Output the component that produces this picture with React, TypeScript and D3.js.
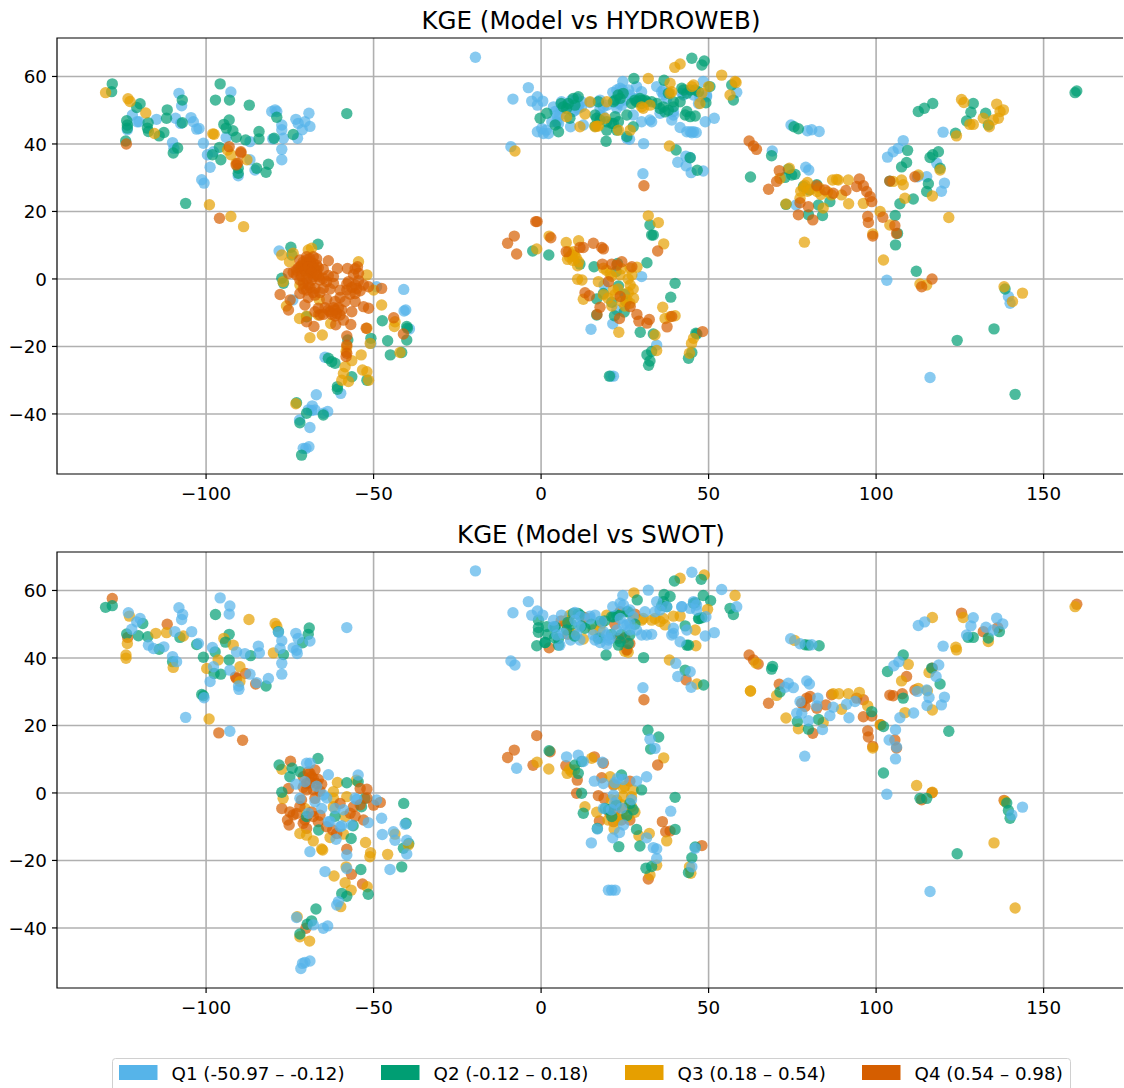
import React from "react";
import * as d3 from "d3";

type P = [number, number];

const xTicks = [-100, -50, 0, 50, 100, 150];
const yTicks = [-40, -20, 0, 20, 40, 60];
const titles = ["KGE (Model vs HYDROWEB)", "KGE (Model vs SWOT)"];
const legendLabels = ["Q1 (-50.97 – -0.12)", "Q2 (-0.12 – 0.18)", "Q3 (0.18 – 0.54)", "Q4 (0.54 – 0.98)"];
const colors = ["#56B4E9", "#009E73", "#E69F00", "#D55E00"];

const hydrowebQ1: P[] = [
[-108.1,55],[-107.3,51.3],[-92.6,55.4],[-122,48.6],[-120,46.6],[-120.6,46.6],[-114.8,47.3],[-109.1,47.6],[-107.6,46.1],[-104.5,47.8],[-103.8,46.6],[-102.8,44.4],[-102.1,44.6],[-123.5,44.2],[-110,40.4],[-109.6,38.7],[-100.8,40.2],[-99.6,36.8],[-97.8,37.7],[-98.8,33.1],[-94,41.9],[-86.9,40.7],[-86.9,35.3],[-85.4,32.3],[-90.4,30.6],[-101.3,29.4],[-100.6,28.4],[-79.4,50.1],[-78.9,49.6],[-80.4,49.6],[-69.3,49.1],[-73.2,47.3],[-72.5,46.1],[-70.5,46.6],[-69,45.2],[-71.3,44.2],[-77.4,45.6],[-77.4,44.2],[-76.9,41.7],[-72.7,41.7],[-80.1,41.5],[-77.4,38.4],[-77.4,35.3],
[-78.2,8.3],[-49.1,-2.3],[-41,-3.1],[-40.4,-9.2],[-40.9,-9.5],[-39.3,-14.8],[-50.8,-19.1],[-64.5,-23.2],[-59.8,-33.9],[-67.1,-34.3],[-68.3,-37.6],[-69.5,-38.8],[-68.5,-39],[-67.5,-38.8],[-65,-39.8],[-63.7,-39.3],[-72.1,-41.8],[-69,-44],[-71,-50.2],[-69.3,-49.7],[-70.2,-50.2],[-74.1,-6.2],
[-19.6,65.7],[-3.8,56.7],[-8.4,53.3],[-2.8,52.7],[-1.1,54],[0.5,52.7],[-1.1,51.5],[-1.1,43.6],[0.2,44.6],[2.2,43.1],[1.5,44.1],[3.7,51],[4.7,48.6],[5.2,46.1],[6.1,52.5],[9.1,53],[10.6,53.5],[12.1,52.5],[10.1,50],[11.1,51.5],[12.1,51],[8.8,45.1],[12.6,45.6],[14.6,52.3],[17.6,50.6],[18.6,48.1],[21.4,55.3],[23.1,52],[24.4,58.5],[24.3,56],[26.5,54.5],[28.5,57],[30,55.5],[25.6,41.7],[26.4,41.4],[27.5,48.6],[30,46.6],[32.5,47.1],[33,46.6],[30.6,40.1],[34.5,57],[36,55.5],[36.5,54.5],[39.5,48.6],[39,47.1],[41.5,44.9],[42,55],[44.5,43.6],[45.5,43.6],[46.3,43.4],[49,46.6],[51.7,47.6],[48.4,58.5],[47,52],[49.4,54],[58.4,55.3],[-9,39.2],[43.2,36.4],[44.5,36],[40.8,34.6],[43.3,33.5],[44.8,31.5],[48.4,32],[30.4,31.2],[17.6,53],[19.6,51.5],[35.5,49.1],
[7.6,51.5],[9.1,51.5],[10.1,52.5],[11.1,50.6],[9.6,49.6],[4.7,46.6],[6.1,50.6],[3.2,46.6],[0.7,43.1],[4.2,49.6],[5.6,48.6],[17.6,48.6],[18.6,51],[22.6,50.6],[24.1,51.5],[25.1,53],[22.6,56],[23.6,56.5],[26.1,56],[28.1,53.5],[36.5,56],[37.5,53.5],[39.5,49.6],[42.5,54.5],[45.5,54.5],[47.4,54],[49.4,54.5],[43.5,43.6],[45,43.3],
[30,0.7],[18.8,-1.8],[14.9,-14.9],[21.4,-13.3],[34.5,-19.6],[21.6,-28.8],[20.8,-28.8],[22.6,-9.2],
[74.6,45.6],[79.5,43.9],[80.8,44.2],[83,43.7],[69,37.9],[79,33.1],[79.9,32.3],[76.1,21.9],[108.1,41],[106.6,38.7],[105.1,37.7],[103.4,36.1],[120,43.5],[118.1,34.3],[115.1,30.3],[112.4,30.3],[120.4,28.4],[119.5,26],[103.2,-0.4],[116.1,-29.2],[139.5,-5.2],[140,-7.2]
];

const hydrowebQ2: P[] = [
[-128,57.8],[-128.2,55.5],[-119.7,51.9],[-120.7,50.8],[-111.6,50.1],[-111.8,47.6],[-107.1,53],[-107.1,46.3],[-95.8,57.8],[-97.2,53],[-93,53],[-87.1,51.5],[-58,49],[-123.7,46.9],[-123.5,45.6],[-123.5,44.7],[-117.3,46.3],[-117.5,44.7],[-117.2,43.7],[-112.6,43.4],[-114,42.4],[-124,40.9],[-108.5,38.8],[-109.8,37.3],[-93.1,47.1],[-94.7,45.8],[-94,44.7],[-92,43.9],[-91,42],[-84.2,43.7],[-84.2,41.5],[-88.2,41.2],[-79.7,41.7],[-74,42.8],[-78.9,47.9],[-96,39],[-98.1,36.8],[-95.6,35.3],[-90.4,32.8],[-90.4,31.3],[-84.9,32.8],[-81.4,34],[-82.1,31.6],[-106.1,22.4],
[-66.6,10.3],[-74.7,9.4],[-74.4,7.1],[-77.4,0.2],[-76.9,-1.3],[-57.7,-18.1],[-50.8,-17.6],[-47.4,-12.4],[-45.8,-18.3],[-40.1,-14.1],[-39.9,-14.6],[-40.1,-18.1],[-45,-22.5],[-41.6,-21.8],[-63.5,-23.5],[-62.5,-24.5],[-61.5,-25],[-60.8,-31.9],[-60.8,-32.7],[-56.5,-29],[-52,-30],[-73,-36.7],[-70,-39.8],[-65,-40.3],[-72,-42.6],[-71.5,-52.2],[-70,-11.2],
[45,65.4],[48.7,64.6],[48,63.4],[27.7,59.4],[36.7,58.9],[42,56.5],[46,56],[50.4,57],[56.9,57.5],[57.4,53],[6,52],[7.6,50.5],[9.6,53.5],[11.1,54],[17.1,52.5],[1.7,49.1],[-0.3,47.6],[4.2,45.6],[5.2,43.6],[8.6,47.6],[16.1,48.6],[19.6,44.1],[19.4,40.8],[21.6,52.5],[23,54.5],[24.5,55],[22.1,48.1],[23.1,46.6],[21.1,46.1],[25.6,48.6],[27.5,45.1],[22.6,44.1],[25.6,42.2],[27,52],[28.5,52.5],[30,53],[31.5,52.5],[34.5,52],[35.5,50.5],[37,49.5],[39.5,52.5],[41.5,52.5],[38,55],[43,48.6],[44.5,48.1],[46,48.3],[49.2,52.2],[40.3,38.2],[44.5,35.9],[46.6,32.2],[62.5,30.2],
[8.1,52],[6.6,51],[10.1,51.5],[16.6,47.6],[17.6,47.1],[22.1,53],[23.6,53.5],[28,53],[29.5,53.5],[31,53],[33,52.5],[30,52],[36.5,51],[38,50],[39.5,51],[44.5,56],[43.5,55],[42.5,56],[47,55.5],[43.5,49.6],[21.6,46.1],[19.6,46.6],[16.1,45.3],
[15.8,3.6],[-2.5,8.3],[2.3,7.1],[32.5,16],[33,13],[33.5,13],[31.6,4.8],[11.6,4.4],[22.4,2.2],[22.8,4.6],[40,-1.3],[38.7,-5.4],[18.6,-4.3],[16.6,-5.9],[21.1,-6.9],[25,-4.6],[25.3,-6.7],[24.8,-9.8],[23.1,-2.1],[21.9,-10.9],[16.6,-10.7],[29.6,-15.8],[33.5,-16.3],[46.2,-16.1],[46.5,-16.3],[33,-21.5],[31.6,-22.5],[32.5,-24.3],[32.1,-25.6],[20.4,-28.8],[44,-23.5],[45,-21.8],
[75.5,45.1],[76.8,44.5],[68.8,36.5],[73.8,32.5],[74.8,30.8],[75.8,31],[72.8,30.1],[78.3,27.4],[80,26.4],[82.3,27.9],[86.2,22.9],[82.8,21.9],[84,18.8],[79.8,19],[73.1,22.1],[112.6,49.6],[114.4,50.6],[116.9,52],[129,52],[128.3,49.4],[132.7,49.1],[127,46.8],[133.5,45.6],[123.7,43.2],[109.4,38.1],[109.1,34.5],[107.6,33.2],[118.6,37.7],[116.1,36],[116.9,36.8],[119.1,32.8],[104.1,29],[115.6,28.2],[115.1,25.9],[111.1,23.7],[107.1,22.3],[105.7,18.8],[106.4,13.5],[105.8,10.1],[112,2.3],[138.5,-3],[135.2,-14.8],[124.2,-18.2],[141.5,-34.2],[159.9,55.7],[159.4,55.2]
];

const hydrowebQ3: P[] = [
[-130,55.2],[-123.3,53.4],[-122.7,52.6],[-118,49.2],[-115.4,43.1],[-98,43],[-97.6,42.9],[-92.6,36.8],[-93.6,38.2],[-87.8,35.3],[-91,34.3],[-99,22],[-92.6,18.5],[-88.8,15.5],
[-77.4,7.1],[-75.1,5.1],[-74,7.6],[-69.5,8.6],[-68.5,9.1],[-54.5,5.1],[-52,1.2],[-77,-0.8],[-72,-1.8],[-66.2,-6.2],[-50,-3.3],[-47.6,-7.7],[-76,-8],[-72.1,-11.7],[-70,-11],[-62.8,-13.2],[-69,-17.4],[-65.3,-16.6],[-52,-14.6],[-43.8,-14.1],[-43.6,-12.7],[-51,-19.1],[-58,-20.1],[-58.2,-21.5],[-53.7,-22.5],[-56.5,-24.2],[-53.3,-27],[-52,-27.5],[-51.5,-30],[-58.5,-26],[-59,-28],[-59.5,-30],[-57.5,-30.4],[-73.2,-37],[-42.1,-21.8],[-66.5,-10.7],
[39.9,62.7],[41.5,63.7],[53.9,60.4],[32,59.4],[38.5,58],[45,57],[57.9,58.5],[56.4,54.5],[47.4,52],[48,55],[14.6,52.5],[19.6,52.5],[32.5,51.5],[30,51],[13.1,48.9],[19.1,47.6],[11.6,45.1],[16.6,45.3],[23.1,44.1],[26.6,44.1],[38.3,39.4],[-7.8,37.9],[58.2,58.2],[39,55.5],[7.6,48.1],[16.1,45.1],[17.1,45.3],[30.5,50.6],[45.5,57.5],[50,57],[38.5,55],
[32,18.7],[35,16.7],[36.6,10.4],[2.4,12.7],[-1.3,8.9],[7.5,10.8],[11.2,11.3],[8.2,8.1],[9.2,7.1],[7.9,5.8],[11.2,5.1],[10.9,3.9],[9.7,8.1],[10.9,-0.1],[12.2,-0.3],[17.1,-0.8],[18.6,3.2],[20.6,1.5],[23.6,1.2],[26.6,3.2],[28.6,3.5],[27.1,1.2],[21.6,-3.3],[18.6,-4.7],[21.1,-8],[24.1,-6.7],[26.6,-1.8],[27.6,-5.7],[25.6,-6.2],[12.6,-6],[23.2,-15.8],[36.3,-8.4],[37,-11.7],[38.5,-11.2],[40,-10.9],[34,-16.6],[34.5,-21.2],[44.9,-19.1],[44.3,-22],[45.5,-17.6],
[19.5,2.6],[21,0.8],[24,3],[26,0],[27.5,-3],[26,-4],[23,-3],[22,-4.7],[20,-5.7],[25,-8],[26.5,-7.2],[10,7],[8.5,6.5],[10.5,6.2],[9.5,5.5],
[125.5,53.2],[126.2,52.3],[136,51.8],[137,49.6],[138,50.1],[136.5,47.6],[135,47.1],[132,47.6],[133.8,45.1],[128,45.8],[129,45.8],[124,42.4],[112.6,30.8],[107.6,29.3],[108.1,27.9],[105.1,28.9],[108.6,23.9],[116.8,24.6],[119.1,32.3],[121.7,18.2],[102.2,5.6],[101.2,20],[104.1,16],[99,13.3],[78.6,10.9],[115.1,-1.8],[113.1,-1.5],[138.2,-2.3],[140.7,-6.7],[143.7,-4.2],[96.2,22.4],[91.8,22.3],[89.7,24.9],[87,29.3],[88.7,29.3],[91.7,29.3],[88.2,29.5],[71.3,29.8],[74.1,32.8],[73.1,22.2],[77.3,23.9],[78.3,26.9],[79.5,28.6],[82.4,25.9],[84.2,21],[86.7,24.9],
[77.5,26],[78.7,27.8],[79.5,26],[80.5,26.5],[83,27],[83.5,25],[85.5,25.8]
];

const hydrowebQ4: P[] = [
[-123.8,40],[-93.1,39.2],[-89.6,37.7],[-89.6,37.3],[-91,33.8],[-90.6,34.3],[-96,18],
[-72,5.6],[-70,6.6],[-68,6.6],[-70,4.6],[-68,4.6],[-71,3.1],[-69,2.6],[-67,2.6],[-65,2.8],[-73,2.6],[-75.4,1.7],[-63.5,5.4],[-60.8,3.1],[-57.8,3.1],[-54.8,3.6],[-54.5,1.7],[-62,0.7],[-71,-1.3],[-68.5,-0.3],[-66,-0.3],[-64,-0.8],[-62,-1.3],[-60,-3.3],[-57.5,-0.8],[-55.5,-1.8],[-53,-1.8],[-55.5,-4.3],[-70,-3.3],[-67.5,-2.8],[-77.9,-4.6],[-74.9,-6.2],[-75.4,-9.2],[-70.5,-7.7],[-66.5,-8.7],[-66,-10.7],[-63,-9.7],[-61,-10.2],[-59.5,-9.2],[-59,-12.2],[-56.5,-9.7],[-61.5,-6.7],[-58.5,-6.7],[-55.5,-6.7],[-53,-8.2],[-51.5,-8.7],[-70,-12.7],[-67.8,-14.1],[-61.3,-13.6],[-56.8,-13.5],[-58,-16.9],[-58,-22],[-52.2,-14.6],[-44,-11.5],[-41.1,-16.3],[-47.6,-2.8],
[-72,3.6],[-69,5.1],[-67,4.1],[-73,1.2],[-70,1.7],[-68,0.7],[-69.5,-1.8],[-67.5,-4.8],[-72,-4.3],[-65,-2.8],[-58,-3.3],[-55,-2.8],[-63.5,-9.2],[-61.5,-9.2],[-60,-10.7],[-67.5,-9.7],[-58,-19.6],[-58.2,-23],[-51.5,-2.3],
[-71,5],[-70,5.6],[-69,6],[-67,6],[-71.5,4],[-69.5,3.5],[-68,3.5],[-66.5,3.3],[-72.5,3.2],[-70.5,2.4],[-68.5,1.8],[-67,1.2],[-74,2],[-71.5,0.8],[-70,0],[-72,-0.3],[-66.5,0.8],[-63.5,1],[-65,0.2],[-69,-2.5],[-71,-3],[-68,-4],[-66,-4],[-63,-3],[-58,-1.5],[-56.5,-2.5],[-54.5,-0.5],[-57,-4.5],[-54,-3.5],[-62,-8.5],[-60.5,-8.5],[-64.5,-8.5],[-65,-10.5],[-61.5,-11],[-62.5,-10.5],[-56,1.3],[-55.5,3],[-69.5,-5.5],[-64,-6],[-60,-5.5],
[30.7,27.6],
[-1.6,17],[-1.2,17],[-8,12.7],[-10,10.6],[-7.3,7.4],[2.9,12.2],[7.5,8.1],[11.6,9.3],[12.6,9.3],[15.6,10.6],[18.1,9.3],[18.6,8.9],[18.3,4.4],[21.1,4.4],[24.1,5.1],[22.6,4.1],[27.1,3.6],[20.1,-0.8],[13.1,-4.1],[14.4,-5],[17.6,-8.4],[16.7,-10.5],[23.6,-5.2],[26.6,-8.2],[23.4,-11.7],[28.6,-10.5],[29.2,-12.5],[32.3,-12],[31.6,-13.1],[34.8,8.3],[37.6,-14.2],[39,-11.1],[48.2,-15.6],
[62.1,40.9],[64.3,38.4],[63.4,39.4],[71.1,32.1],[70.3,28.9],[67.9,26.6],[77.3,22.6],[79.8,21.4],[76.8,19],[81.1,17.5],[82.3,27.6],[84.7,26.4],[87.2,25.4],[91,26.2],[95,29.6],[94.2,27.4],[96.2,27.6],[97.2,25.9],[98.2,24.4],[98.7,22.9],[97.5,18.5],[97.7,16.7],[102,18.3],[105.6,15.8],[106.1,13.5],[99,12.7],[111.6,30.3],[104.1,29],[116.7,0],[113.6,-2.3]
];

const swotQ1: P[] = [
[-95.8,57.8],[-92.9,55.4],[-93.1,53],[-108.1,54.9],[-107,52.9],[-107.3,51.4],[-123.2,53.4],[-119.7,51.7],[-120.7,50.7],[-122.2,48.5],[-117.2,43.8],[-115.7,42.8],[-112.6,43.3],[-109.3,47.8],[-104.3,47.8],[-102.3,44.3],[-110,40.4],[-108.8,38.9],[-98.1,43.1],[-98.8,33],[-92.9,36.4],[-86.9,35.2],[-84.4,43.5],[-84.1,41.5],[-88.4,41.3],[-90.9,41.8],[-97.8,37.4],[-90.3,31.7],[-90.2,30.7],[-84.9,32.7],[-81.4,33.9],[-100.6,28.2],[-106.1,22.4],[-92.9,18.3],[-58,49],[-73.2,47.3],[-72.5,45.8],[-69,45],[-73,42.3],[-72.8,41.3],[-74,43],[-77.4,45.1],[-78.4,47.6],[-77.4,38.4],[-77.4,35.2],[-77.9,42.8],
[-69,8.8],[-70,8.8],[-63.5,5.4],[-54.6,5.3],[-70.5,3.3],[-73.2,2.6],[-72,-1.6],[-65,-0.6],[-67.5,-2.6],[-55.5,-1.6],[-56.6,-9.5],[-49.1,-2.1],[-63,-8.5],[-59.5,-9.7],[-51.6,-8.8],[-61.2,-13.7],[-47.6,-7.5],[-47.4,-12.3],[-44.1,-11.5],[-43.6,-14],[-40.1,-14],[-40.1,-18.1],[-40.6,-9.3],[-69,-17.4],[-58,-18.4],[-58,-22.4],[-64.5,-23.3],[-45.1,-22.7],[-60.5,-32.2],[-61,-33.2],[-73,-36.9],[-68,-39.1],[-65,-40.1],[-63.7,-39.4],[-71.7,-52],[-70.5,-50.2],[-69,-49.8],[-71.2,-50.5],
[-63.5,-8.5],[-60,-10],[-69.5,-6],[-65.5,-4.6],[-61.5,-4.6],[-55,-1.9],[-67,2],[-64,-1.5],[-59,-5],
[-19.6,65.8],[45,65.4],[53.9,60.3],[-3.8,56.7],[-8.4,53.4],[-2.8,52.7],[-1.1,53.9],[0.5,52.7],[6.1,52.7],[10.1,53.5],[11.8,52.2],[14.6,52.4],[16.1,52.7],[3.7,51.2],[5.6,43.8],[8.8,45.3],[11.6,45.3],[16.1,45.3],[21.4,55.2],[24.4,58.5],[23.6,56.2],[26.5,54.2],[27.5,52.2],[32,60.1],[34.5,56.7],[31,53.7],[24.6,49.8],[26.5,48.3],[30,46.8],[33,47],[20.6,45.8],[19.6,44],[39.5,48.8],[39,46.8],[41.5,44.8],[42,55.2],[45.5,56.7],[49,46.5],[51.7,47.5],[46.4,54.2],[49.2,52.2],[58.4,55.2],[-9,39.1],[-7.8,37.9],[40.2,38.4],[44.5,35.9],[40.8,34.5],[44.8,31.3],[30.4,31.2],
[3.7,49.3],[4.7,46.8],[6.6,47.3],[10.1,51.2],[11.6,49.3],[10.6,46.8],[15.6,46.8],[18.6,47.8],[20.1,45.3],[22.6,48.3],[25.6,49.8],[23.6,51.7],[24.6,55.7],[26.5,50.3],[28.5,48.3],[31.5,46.8],[34,53.7],[35.5,54.2],[37.5,55.2],[42,55.2],[44.5,54.7],[46.4,55.7],[39.5,47.3],[43.5,48.3],[18.1,50.8],[14.6,51.7],[19.6,46.8],[17.6,44.6],
[7.6,10.7],[11.1,11.2],[12.6,9.3],[18.3,9.1],[-7.3,7.3],[15.9,3.5],[18.6,2.8],[22.8,4.3],[28.5,3.5],[31.5,4.8],[32.5,15.9],[34,13.2],[38.7,-5.4],[21.6,-0.6],[18.6,-4.6],[24.6,-9.5],[16.8,-10.7],[23.4,-11.7],[21.4,-13.3],[15,-14.8],[31.5,-13.3],[33.5,-16.2],[34.5,-16.6],[34.5,-19.4],[46,-16.4],[45,-21.9],[21.1,-28.8],[20.1,-28.8],[22.1,-28.8],[22,-3],[24,-4.5],[27,-2],[21,-5],[22,3],[24.5,4],
[74.5,45.7],[77.3,44.2],[80.8,43.9],[79.3,33.2],[80.1,32.3],[73.8,32.5],[75.3,31.2],[72.8,31.3],[77.3,27.1],[82.6,28.1],[87.2,25.4],[91.2,26.3],[93.7,27.1],[91.9,22.3],[82.3,25.8],[86.2,22.9],[79.8,21.4],[84,18.8],[76.3,23.6],[77.8,23.6],[78.7,10.9],[112.6,49.6],[114.5,50.7],[129,51.9],[128.3,49.5],[132.8,49.1],[136,51.8],[137.8,50.1],[127,46.8],[135,48.3],[120,43.5],[106.8,38.9],[105.3,37.7],[118.7,37.9],[117.9,34.5],[115.1,30.5],[112.3,30.1],[115.8,28.3],[120.4,28.4],[119.5,26.1],[115.2,25.9],[111.2,23.7],[107.1,22.3],[105.8,18.7],[103.9,15.7],[106.1,13.6],[105.8,10.1],[103.2,-0.4],[116.1,-29.2],[143.7,-4.2],[140.5,-6.5]
];

const swotQ2: P[] = [
[-130,55],[-128,55.5],[-97.2,52.9],[-118.9,50.2],[-123.7,47.1],[-120.2,46.6],[-117.4,46.3],[-114,42.6],[-107.8,46.1],[-102.8,44],[-110,38.9],[-100.8,40.2],[-93.1,47],[-94.2,44.7],[-97.3,41.8],[-93.1,39.4],[-97.6,35.4],[-95.6,35.2],[-86.7,40.7],[-82.1,31.7],[-101.3,29.2],[-100.8,28.8],[-69.2,48.9],[-69.5,47],[-71.2,44.5],[-76.9,41],[-78.4,47.8],
[-66.6,10.2],[-78.2,8.3],[-74.3,7.3],[-75,4.8],[-72,6.3],[-58,3],[-54.6,3.3],[-77.4,0.2],[-52.6,-1.6],[-53.6,-4.1],[-61.5,-6.9],[-56.1,-9.7],[-41,-3.1],[-40.3,-9],[-39.5,-15],[-41.1,-16.4],[-66.4,-11],[-56.7,-13.5],[-53.8,-22.7],[-41.6,-21.9],[-51.6,-30],[-59.5,-29.8],[-58,-30.6],[-67.2,-34.4],[-68.5,-37.9],[-69.8,-38.9],[-72,-41.8],[-70,-7],
[39.8,62.8],[47.8,63.3],[28.7,57.2],[36.7,58.8],[38.5,58.2],[36,55.5],[48.4,58.5],[50.6,57],[46,56.4],[56.4,54.7],[57.4,52.9],[-0.8,51.2],[1.7,49.3],[4.2,49],[-0.8,47.6],[5.2,45.8],[-1.3,43.6],[1.2,44.6],[5.2,43.8],[11.1,53.2],[9.1,50],[7.6,48.3],[13.1,48.8],[17.6,50.8],[17.6,46],[23.1,52.7],[26,53.7],[21.6,52.2],[26,44.3],[23.1,43.8],[19.4,40.9],[43,49.5],[44,43.8],[47.2,51.7],[30.6,40.1],[43,36.4],[48.5,32],
[1.2,44.6],[4.2,49.3],[9.6,53.2],[11.6,52.7],[21.1,52.2],[22.6,52.7],[26.5,46.8],[23.6,44.8],[17.1,45.8],[45.5,56.2],[36.5,56.7],[37.5,55.2],[47,51.7],[48,51.9],[43.5,43.8],[25.6,53.7],
[-0.8,49],[2,47],[4,46],[8,50.5],[12,49.5],[15,50],[19,51],[21,47],[24,47],[28,50],[10,46.5],
[31.9,18.6],[35.1,16.6],[32.7,13],[2.4,12.5],[10.1,8.3],[12.1,9.3],[11.1,5.8],[24,5.3],[30,0.9],[12.1,-0.1],[40,-1.3],[12.6,-6],[16.8,-10.5],[20.1,-5],[22.4,-3.6],[26.5,-3.1],[27.5,-5],[21.1,-7],[25.6,-6.7],[19.1,-4.6],[28.5,-10.8],[40,-10.8],[23.2,-15.9],[29.5,-15.7],[46,-16],[45,-19.2],[44,-23.6],[31.3,-22.3],[33,-21.8],
[78.8,43.9],[79.8,43.8],[83,43.6],[127.5,46.1],[129,46.1],[133.5,45.9],[136.8,47.8],[69.1,37.5],[68.8,36.7],[71.3,29.9],[82.8,21.8],[108.1,40.9],[103.4,36],[116.6,37],[119.1,32.3],[108.1,28.1],[98.7,24.1],[76.5,21.2],[79.8,18.9],[102.2,19.7],[121.7,18.3],[102.2,5.9],[113.1,-1.6],[115.1,-1.6],[139,-3],[139.5,-5.2],[140,-7.5],[124.2,-18]
];

const swotQ3: P[] = [
[-87.2,51.4],[-79.4,50.2],[-78.9,49.4],[-79.9,41.5],[-122.9,52.4],[-123.5,44.3],[-123.9,40.9],[-123.9,39.9],[-115,47.3],[-111.8,47.5],[-106.8,46.5],[-109.8,37.2],[-94.7,45.8],[-91.9,43.8],[-96.4,39.4],[-99.8,36.9],[-89.9,37.4],[-89.9,33],[-99.1,21.9],
[-77.4,7],[-60.8,3.1],[-55.1,3.8],[-62,0.4],[-62,-1.6],[-58,-1.1],[-77,-1.6],[-70.5,-4.6],[-62,-4.1],[-58.5,-7],[-59,-12.2],[-63,-13.2],[-68,-14.2],[-72,-12],[-70,-12.5],[-65.5,-16.6],[-65.2,-16.9],[-52.4,-14.7],[-50.9,-17.7],[-45.8,-18.2],[-51.1,-18.9],[-58.2,-21.9],[-61.8,-24.6],[-58.5,-26.6],[-56.7,-28.8],[-51.9,-27.8],[-59.8,-33.7],[-72.8,-36.7],[-72,-42.6],[-69.1,-43.9],[-43.6,-12.2],[-39.6,-15.4],
[41.5,63.6],[48.7,64.6],[27.7,59.3],[57.9,58.5],[38.3,39.4],[46.5,32.3],[62.5,30.2],[26,41.7],[25,42],[46.2,43.6],[46,48.3],[12.6,45.6],[15.6,48.3],[8.6,52.7],[19.6,52.7],[30.5,51.7],[33,51.2],[36.5,51.7],[37,49.8],[39.5,52.4],[41.5,52.4],[49.7,54.4],[8.6,47.3],
[9.6,47.3],[7.6,51.2],[18.1,50.3],[27.5,51.7],[30,51.2],[34,51.7],[35.5,50.8],[17.6,48.3],
[-1.2,9.1],[2.3,7.1],[7.8,5.8],[9.1,6.3],[36.6,10.4],[15.1,10.3],[20.6,4.8],[24.6,1.4],[27.5,0.9],[27,-1.1],[13.1,-4.1],[16.6,-5.7],[22.6,-2.1],[28,-5.7],[24.1,-6.5],[21.8,-10.7],[32.3,-12],[29.2,-12.7],[37.5,-14.2],[34.5,-21.4],[32.5,-24.3],[44.3,-21.9],[44.7,-23.8],
[22,2.5],[25,2],[21,-2],[24,-3.5],[27,-4],[26,-7],[22.5,-7.5],[23,-8],[20,-8],[10,6.8],[8.5,7],[24.5,-1],
[116.8,52],[126,52],[75.7,45.2],[124,42.4],[123.8,43.2],[133.5,44.9],[109.6,38.1],[107.6,33.2],[115.8,35.7],[112.6,31],[115.3,30.3],[108.6,23.8],[116.8,24.6],[62.5,30.2],[70.3,28.9],[64.1,38.5],[73.1,22.2],[76.8,19],[84.2,20.9],[89.7,24.8],[87.2,29.4],[88.9,29.4],[91.7,29.4],[95,29.8],[97.5,25.8],[101.2,20.2],[99,13.3],[116.8,0.2],[112.1,2.2],[138.5,-2.5],[135.2,-14.8],[141.5,-34.1],[159.4,55.2]
];

const swotQ4: P[] = [
[-128,57.6],[-111.6,50],[-123.4,46.1],[-91.2,34.4],[-90.9,33.9],[-88.2,35.4],[-85.2,32.3],[-96.2,17.8],[-89.1,15.6],[-74.8,9.4],
[-71,4.8],[-69,5.8],[-67.5,6.8],[-68,4.3],[-70,2.8],[-67,2.8],[-65.5,2.6],[-70,0.9],[-68,0.9],[-75.4,1.3],[-77.4,-4.6],[-75,-5.6],[-73,-6.1],[-75.7,-8],[-75.2,-9.5],[-70.5,-8],[-68.5,-5.6],[-66,-6.6],[-70,-10.5],[-66.5,-8.5],[-62.2,-11],[-71.5,-2.1],[-67.5,-1.6],[-60,-3.1],[-56,-4.1],[-55.5,-6.9],[-53,-8],[-54,1.3],[-52,1.1],[-50,-3.6],[-48,-2.8],[-58,-16.7],[-56.6,-24.1],[-53.3,-27],[-70.2,-40.1],
[-69.5,6.2],[-68.5,4.8],[-66.5,4],[-69,3],[-71,1.7],[-66,0.5],[-72,-4],[-74,-6.5],[-71,-9],[-68,-7],[-64,-10],[-61,-12],[-57,-6],[-54,-3.5],[-52,-1.5],
[2.4,43],[7.4,50.3],[23.6,53.7],[26.5,44.3],[30.7,27.6],[43.3,33.5],[25.6,42.4],[23.1,45.8],[8,47],[6,51],[22,50],[25,46],[28,53],[13,52],
[-1.3,17],[-8,12.7],[-10,10.5],[2.7,12.2],[-2.4,8.2],[7.4,8.1],[15.9,10.7],[18.6,8.8],[10.8,3.8],[18.1,4.5],[21.6,2.4],[26.5,3.5],[10.6,-0.1],[17.1,-0.8],[18.8,-1.6],[25,-4.6],[21.6,-8.5],[17.4,-8.3],[26.5,-8],[36.2,-8.5],[37.2,-11.5],[38.5,-11.3],[34.8,8.3],[48,-15.6],[32,-25.5],[20.5,-6],[24,-8],[22,-5.2],
[62.1,40.9],[64.8,38.2],[63.4,39.4],[71.1,32.2],[67.9,26.6],[125.5,53.3],[132,47.8],[136.3,49],[109.1,34.5],[104.1,29],[105.1,28.8],[107.8,29.4],[111.6,30.5],[116.8,37],[79.3,28.1],[77.8,26.6],[80.3,28.6],[78.8,25.6],[82.3,25.1],[85,26.1],[81.1,17.7],[86.7,29.1],[96.2,27.6],[94.2,28.1],[96.2,22.6],[98.7,22.8],[97.5,18.4],[97.7,16.6],[101.4,20.2],[105.6,15.7],[106.1,13.3],[99,13.8],[116.7,0.1],[113.6,-2],[138.2,-2.2],[159.9,55.9]
];

const panelTops = [38, 552];
const panelHeight = 436;
const left = 57;
const right = 1123;
const font = "'DejaVu Sans', sans-serif";

const x = d3.scaleLinear().domain([-144.5, 173.7]).range([left, right]);
const y = d3.scaleLinear().domain([-57.8, 71.4]).range([panelHeight, 0]);
const fmt = (v: number) => String(v).replace("-", "\u2212");

// Round-robin order for the SWOT panel, where no quartile sits consistently on top.
function interleave(groups: P[][]) {
  const out: { p: P; c: number }[] = [];
  const n = d3.max(groups, (g) => g.length) ?? 0;
  for (let i = 0; i < n; i++) groups.forEach((g, c) => { if (i < g.length) out.push({ p: g[i], c }); });
  return out;
}
const sequential = (groups: P[][]) => groups.flatMap((g, c) => g.map((p) => ({ p, c })));

const panels = [
  sequential([hydrowebQ1, hydrowebQ2, hydrowebQ3, hydrowebQ4]),
  interleave([swotQ1, swotQ2, swotQ3, swotQ4]),
];

const legendX = [119, 381, 625, 862];

export default function App() {
  return (
    <svg width={1124} height={1088} viewBox="0 0 1124 1088" style={{ position: "absolute", left: 0, top: 0, display: "block", background: "#fff" }} fontFamily={font}>
      {panels.map((pts, pi) => (
        <g key={pi} transform={`translate(0,${panelTops[pi]})`}>
          {xTicks.map((t) => (
            <line key={t} x1={x(t)} x2={x(t)} y1={0} y2={panelHeight} stroke="#b0b0b0" strokeWidth={1.6} />
          ))}
          {yTicks.map((t) => (
            <line key={t} x1={left} x2={right} y1={y(t)} y2={y(t)} stroke="#b0b0b0" strokeWidth={1.6} />
          ))}
          {pts.map((d, i) => (
            <circle key={i} cx={x(d.p[0])} cy={y(d.p[1])} r={5.7} fill={colors[d.c]} fillOpacity={0.7} />
          ))}
          <path d={`M${right},0H${left}V${panelHeight}H${right}`} fill="none" stroke="#000" strokeWidth={1.2} />
          {xTicks.map((t) => (
            <g key={t}>
              <line x1={x(t)} x2={x(t)} y1={panelHeight} y2={panelHeight + 5} stroke="#000" strokeWidth={1.2} />
              <text x={x(t)} y={panelHeight + 25.5} textAnchor="middle" fontSize={18.3} fill="#000">{fmt(t)}</text>
            </g>
          ))}
          {yTicks.map((t) => (
            <g key={t}>
              <line x1={left - 5} x2={left} y1={y(t)} y2={y(t)} stroke="#000" strokeWidth={1.2} />
              <text x={left - 10} y={y(t) + 6.7} textAnchor="end" fontSize={18.3} fill="#000">{fmt(t)}</text>
            </g>
          ))}
          <text x={591} y={-9} textAnchor="middle" fontSize={24.5} fill="#000">{titles[pi]}</text>
        </g>
      ))}
      <rect x={112.5} y={1058.5} width={958} height={40} rx={3} fill="#fff" stroke="#d0d0d0" strokeWidth={1} />
      {legendLabels.map((l, i) => (
        <g key={l}>
          <rect x={legendX[i]} y={1065} width={38.5} height={15} fill={colors[i]} />
          <text x={legendX[i] + 52.5} y={1079.5} fontSize={18.3} fill="#000">{l}</text>
        </g>
      ))}
    </svg>
  );
}
